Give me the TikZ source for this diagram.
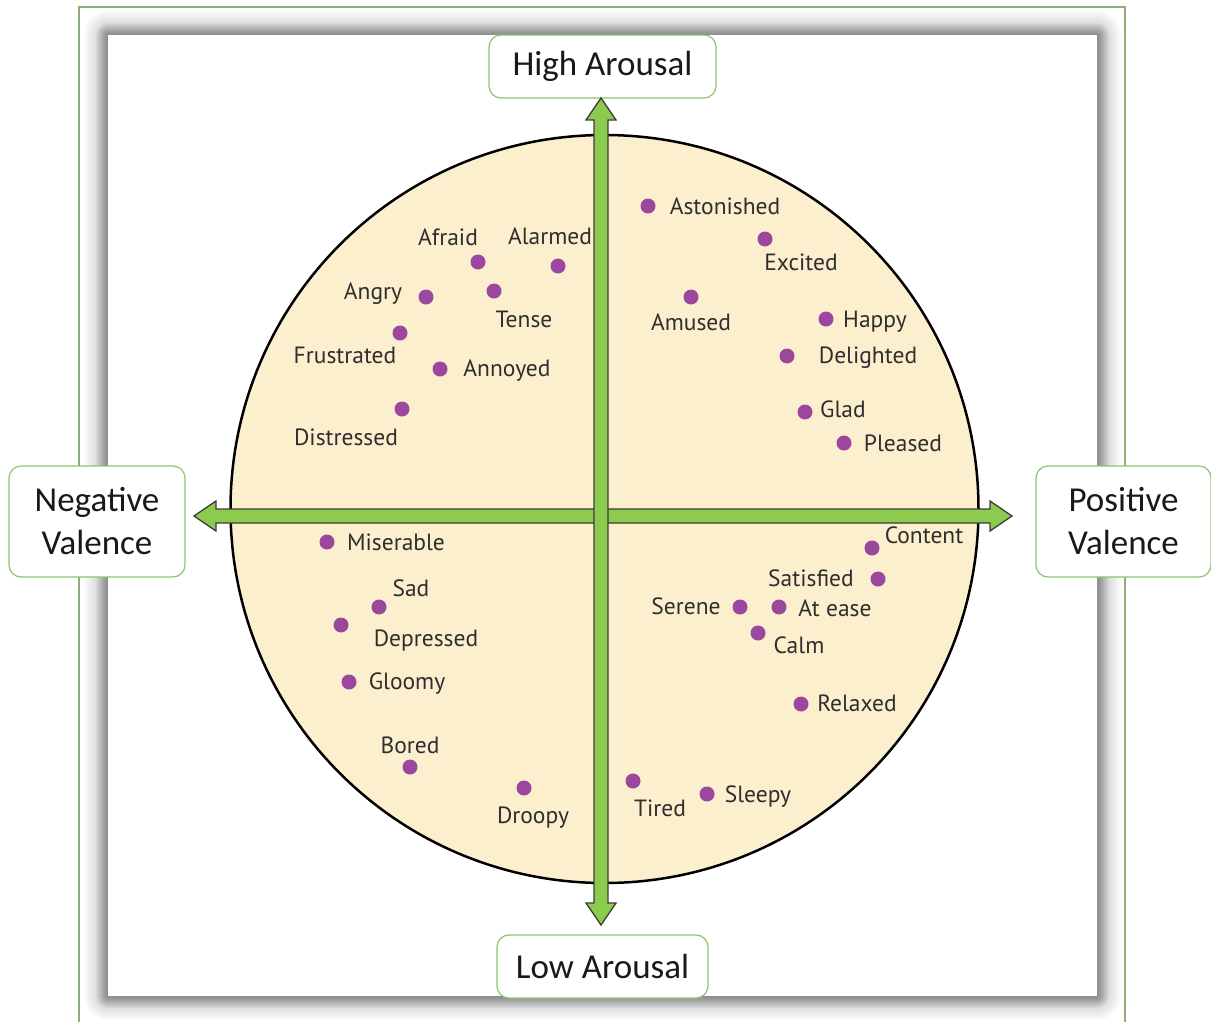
\documentclass[tikz,border=0pt]{standalone}
\usepackage{fontspec}
\usetikzlibrary{calc}
\setmainfont{Carlito}
\newfontfamily\lblfont{PT Sans}
\begin{document}
\begin{tikzpicture}[x=1pt,y=-1pt,
  dotstyle/.style={circle, fill=dotc, inner sep=0pt, minimum size=15pt},
  lbl/.style={font=\lblfont\fontsize{23.5}{26}\selectfont, text=lbltext, inner sep=0pt, anchor=base},
  axisbox/.style={draw=boxgreen, line width=1.2pt, rounded corners=12pt, fill=white,
    font=\fontsize{35}{43}\selectfont, text=black!90, align=center, inner sep=0pt},
  fatarrow/.style={fill=arrowgreen, draw=arrowedge, line width=1.3pt, line join=miter}]
\definecolor{dotc}{HTML}{9C479E}
\definecolor{lbltext}{HTML}{2E2E2E}
\definecolor{boxgreen}{HTML}{8CC46A}
\definecolor{arrowgreen}{HTML}{8DCB4F}
\definecolor{arrowedge}{HTML}{3C3C3C}
\definecolor{cream}{HTML}{FCEFCE}
\definecolor{framegreen}{HTML}{8FAE7C}

\useasboundingbox (0,0) rectangle (1211,1021);
\begin{scope}
\clip (0,0) rectangle (1211,1021);
\fill[white] (0,0) rectangle (1211,1021);
% outer frame
\draw[framegreen, line width=2pt] (79,1040) -- (79,7) -- (1125,7) -- (1125,1040);
% soft shadow round the panel, densest at its edge
\foreach \d in {24,22,...,0}
  \fill[black, opacity=0.018, rounded corners=\d pt] (108-\d,35-\d) rectangle (1097+\d,996+\d);
\foreach \d in {12,11,...,0}
  \fill[black, opacity=0.022, rounded corners=\d pt] (108-\d,35-\d) rectangle (1097+\d,996+\d);
\end{scope}
% white panel
\fill[white] (108,35) rectangle (1097,996);

% circumplex disc
\draw[fill=cream, line width=2.5pt] (604.5,509) circle (374);

% axis boxes
\node[axisbox, minimum width=227pt, minimum height=63pt] (hi) at (602.5,66.5) {High Arousal};
\node[axisbox, minimum width=211pt, minimum height=63pt] (lo) at (602.5,966.5) {Low Arousal};
\node[axisbox, minimum width=176pt, minimum height=111pt] (neg) at (97,521.5) {Negative\\Valence};
\node[axisbox, minimum width=175pt, minimum height=111pt] (pos) at (1123.5,521.5) {Positive\\Valence};

% axis arrows
\coordinate (vt) at (601,98);
\coordinate (vb) at (601,925);
\coordinate (hl) at (194,516);
\coordinate (hr) at (1012,516);
\draw[fatarrow] (hl) -- ++(22,-15) -- ++(0,8) -- ($(hr)+(-22,-7)$) -- ++(0,-8) -- (hr)
  -- ++(-22,15) -- ++(0,-8) -- ($(hl)+(22,7)$) -- ++(0,8) -- cycle;
\draw[fatarrow] (vt) -- ++(15,22) -- ++(-8,0) -- ($(vb)+(7,-22)$) -- ++(8,0) -- (vb)
  -- ++(-15,-22) -- ++(8,0) -- ($(vt)+(-7,22)$) -- ++(-8,0) -- cycle;

% emotions: dots and words
\foreach \n/\dx/\dy/\lx/\ly/\t in {
  ast/648/206/725/206/Astonished,
  exc/765/239/801/262/Excited,
  amu/691/297/691/322/Amused,
  hap/826/319/875/319/Happy,
  del/787/356/868/355/Delighted,
  gla/805/412/843/409/Glad,
  ple/844/443/903/443/Pleased,
  afr/478/262/448/237/Afraid,
  ala/558/266/550/236/Alarmed,
  ang/426/297/373/291/Angry,
  ten/494/291/524/319/Tense,
  fru/400/333/345/355/Frustrated,
  ann/440/369/507/368/Annoyed,
  dis/402/409/346/437/Distressed,
  mis/327/542/396/542/Miserable,
  sad/379/607/411/588/Sad,
  dep/341/625/426/638/Depressed,
  glo/349/682/407/681/Gloomy,
  bor/410/767/410/745/Bored,
  dro/524/788/533/815/Droopy,
  con/872/548/924/535/Content,
  sat/878/579/811/578/Satisfied,
  ser/740/607/686/606/Serene,
  ate/779/607/835/608/At ease,
  cal/758/633/799/645/Calm,
  rel/801/704/857/703/Relaxed,
  tir/633/781/660/808/Tired,
  sle/707/794/758/794/Sleepy}
{
  \node[dotstyle] (d-\n) at (\dx,\dy) {};
  \node[lbl] (l-\n) at (\lx,\ly+8) {\t};
}
\end{tikzpicture}
\end{document}
